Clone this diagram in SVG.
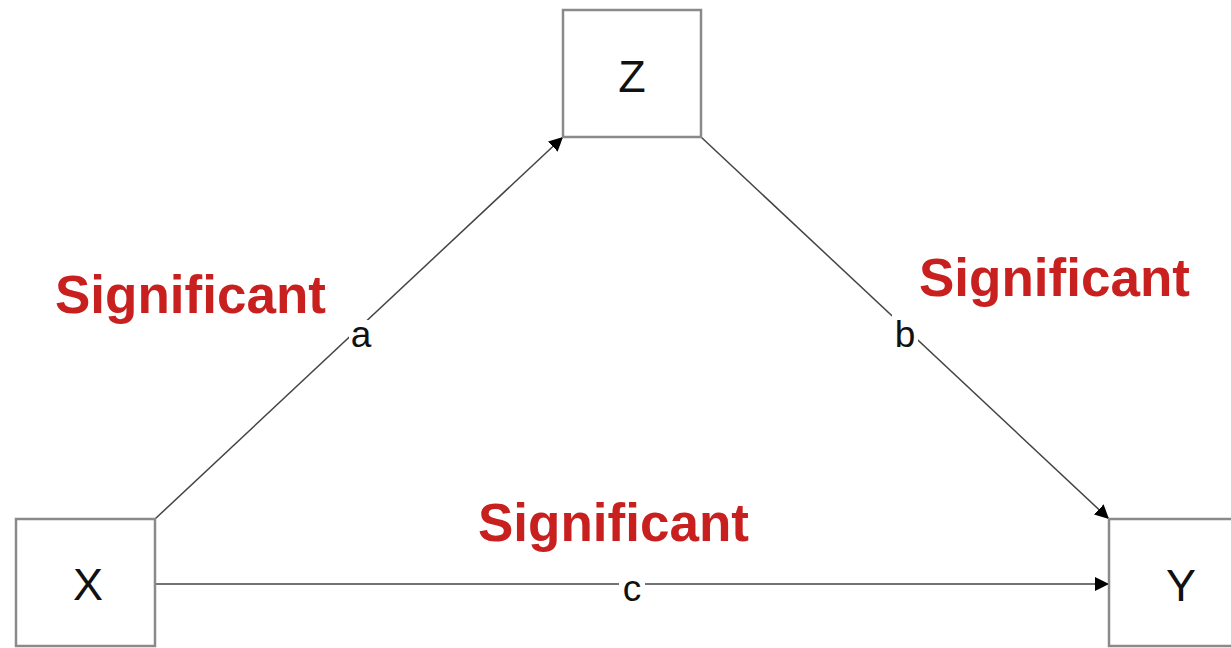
<svg xmlns="http://www.w3.org/2000/svg" width="1231" height="648" viewBox="0 0 1231 648">
<style>
.box{fill:#fff;stroke:#8a8a8a;stroke-width:2.5}
.nl{font-family:"Liberation Sans",Arial,sans-serif;font-size:45px;fill:#111;text-anchor:middle}
.el{font-family:"Liberation Sans",Arial,sans-serif;font-size:37px;fill:#111;text-anchor:middle}
.sig{font-family:"Liberation Sans",Arial,sans-serif;font-size:53px;font-weight:bold;fill:#C8201F}
.edge{fill:none;stroke:#444;stroke-width:1.5}
.bg{fill:#fff}
</style>
<defs>
<marker id="ah2" viewBox="0 0 10 10" refX="10" refY="5" markerWidth="14" markerHeight="14" markerUnits="userSpaceOnUse" orient="auto">
<path d="M0,0 L10,5 L0,10 z" fill="#000"/>
</marker>
</defs>
<rect width="1231" height="648" fill="#fff"/>
<g id="connectors">
<line class="edge" x1="155" y1="519" x2="563" y2="137" marker-end="url(#ah2)"/>
<line class="edge" x1="701" y1="137" x2="1109" y2="519" marker-end="url(#ah2)"/>
<line class="edge" x1="155" y1="584" x2="1109" y2="584" stroke="#999" stroke-width="2.5" marker-end="url(#ah2)"/>
<rect class="bg" x="349" y="320" width="25" height="30"/>
<rect class="bg" x="892" y="315" width="26" height="36"/>
<rect class="bg" x="619" y="576" width="26" height="28"/>
<text class="el" x="361" y="347">a</text>
<text class="el" x="905" y="347">b</text>
<text class="el" x="632" y="601">c</text>
</g>
<g id="node-Z">
<rect class="box" x="563" y="10" width="138" height="127"/>
<text class="nl" x="632" y="92">Z</text>
</g>
<g id="node-X">
<rect class="box" x="16" y="519" width="139" height="127"/>
<text class="nl" x="88" y="600">X</text>
</g>
<g id="node-Y">
<rect class="box" x="1109" y="519" width="139" height="127"/>
<text class="nl" x="1181" y="601">Y</text>
</g>
<g id="labels">
<text class="sig" x="55" y="313">Significant</text>
<text class="sig" x="919" y="296">Significant</text>
<text class="sig" x="478" y="541">Significant</text>
</g>
</svg>
